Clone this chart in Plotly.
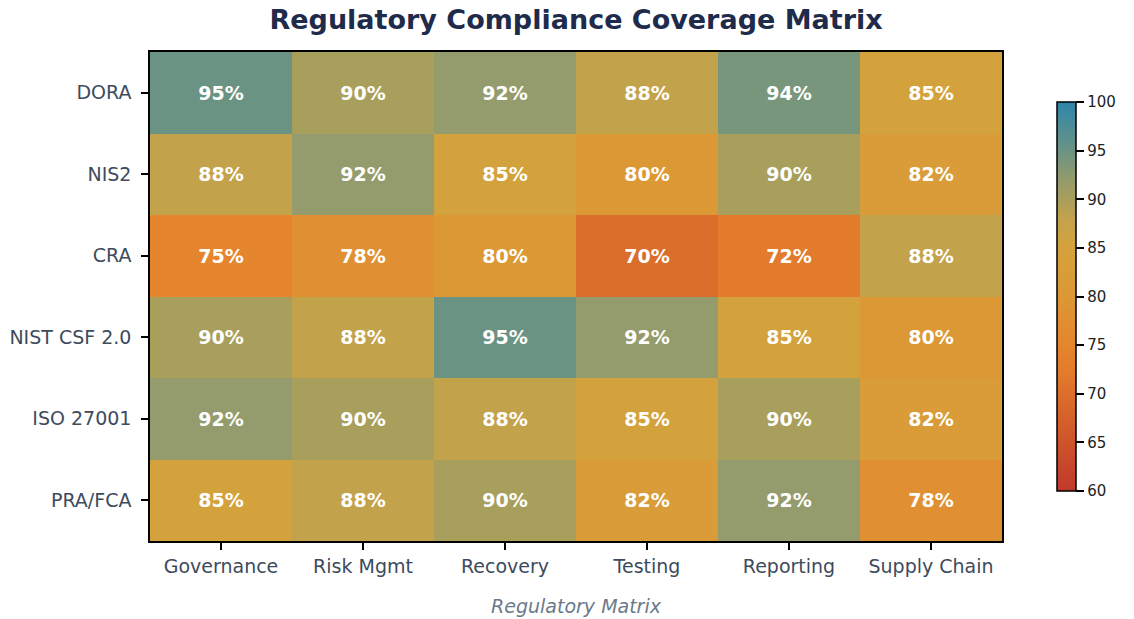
import plotly.graph_objects as go

frameworks = ["DORA", "NIS2", "CRA", "NIST CSF 2.0", "ISO 27001", "PRA/FCA"]
domains = ["Governance", "Risk Mgmt", "Recovery", "Testing", "Reporting", "Supply Chain"]
coverage = [
    [95, 90, 92, 88, 94, 85],
    [88, 92, 85, 80, 90, 82],
    [75, 78, 80, 70, 72, 88],
    [90, 88, 95, 92, 85, 80],
    [92, 90, 88, 85, 90, 82],
    [85, 88, 90, 82, 92, 78],
]
colorbar_ticks = [60, 65, 70, 75, 80, 85, 90, 95, 100]

labels = [[f"{v}%" for v in row] for row in coverage]

colorscale = [
    [0.0, "#c0392b"],
    [0.25, "#dc6e2b"],
    [0.30, "#e27b2c"],
    [0.375, "#e5852e"],
    [0.5, "#dc9835"],
    [0.625, "#d4a23d"],
    [0.70, "#c3a24c"],
    [0.75, "#a89f5c"],
    [0.80, "#949b6c"],
    [0.875, "#6a9384"],
    [1.0, "#2e86ab"],
]

fig = go.Figure(go.Heatmap(
    z=coverage, x=domains, y=frameworks,
    zmin=60, zmax=100, colorscale=colorscale,
    text=labels, texttemplate="%{text}",
    textfont=dict(family="DejaVu Sans", size=19, color="white", weight="bold"),
    xgap=0, ygap=0,
    colorbar=dict(
        x=1.0646, xanchor="left", xpad=0, y=0.5, yanchor="middle", ypad=0,
        len=0.795, lenmode="fraction", thickness=19, thicknessmode="pixels",
        outlinecolor="black", outlinewidth=1.5,
        tickvals=colorbar_ticks,
        tickprefix="<span style='color:rgba(0,0,0,0)'>0</span>",
        ticks="outside", ticklen=8, tickcolor="black", tickwidth=1.5,
        tickfont=dict(family="DejaVu Sans", size=15, color="#222222"),
    ),
))

fig.update_layout(
    width=1134, height=619,
    margin=dict(l=150, r=132, t=52, b=78, autoexpand=False),
    paper_bgcolor="white", plot_bgcolor="white",
    font=dict(family="DejaVu Sans"),
    title=dict(text="<b>Regulatory Compliance Coverage Matrix</b>", x=0.508, xanchor="center",
               y=0.968, yanchor="middle",
               font=dict(family="DejaVu Sans", size=27, color="#1e2b4a")),
)
fig.update_xaxes(
    automargin=False,
    showline=True, linecolor="black", linewidth=1.5, mirror=True,
    ticks="outside", ticklen=7, tickcolor="black", tickwidth=1.5,
    ticklabelstandoff=0,
    tickfont=dict(family="DejaVu Sans", size=19, color="#3d4b5c"),
    title=dict(text="<i>Regulatory Matrix</i>", standoff=24,
               font=dict(family="DejaVu Sans", size=19, color="#6b7a8a")),
)
fig.update_yaxes(
    automargin=False,
    autorange="reversed",
    showline=True, linecolor="black", linewidth=1.5, mirror=True,
    ticks="outside", ticklen=7, tickcolor="black", tickwidth=1.5,
    ticklabelstandoff=6,
    tickfont=dict(family="DejaVu Sans", size=19, color="#3d4b5c"),
)

fig.write_html("out.html", config={"displayModeBar": False},
               post_script="document.body.style.margin='0';")
